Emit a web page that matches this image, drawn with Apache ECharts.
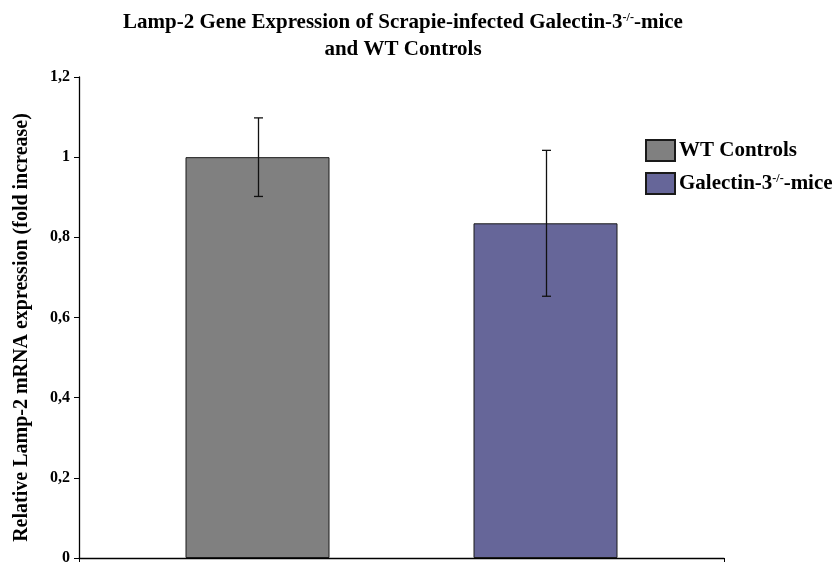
<!DOCTYPE html>
<html><head><meta charset="utf-8">
<script src="https://cdn.jsdelivr.net/npm/echarts@6/dist/echarts.min.js"></script>
<style>html,body{margin:0;padding:0;background:#fff}#c{width:836px;height:565px}</style>
</head><body><div id="c"></div>
<script>
var seriesNames = ['WT Controls', 'Galectin-3-/--mice'];
var legendLabels = ['WT Controls', 'Galectin-3{sup|-/-}-mice'];
var values = [1.0, 0.835];
var errors = [0.098, 0.182];
var yTicks = ['0', '0,2', '0,4', '0,6', '0,8', '1', '1,2'];
var colors = ['#808080', '#666699'];

var BAR_W = 144, BAR_GAP = 1.0;
var FONT = '"Liberation Serif","Times New Roman",serif';
var chart = echarts.init(document.getElementById('c'));

var series = seriesNames.map(function (n, i) {
  return {
    name: n, type: 'bar', barWidth: BAR_W, barGap: (BAR_GAP * 100) + '%',
    data: [values[i]],
    itemStyle: { color: colors[i], borderColor: '#1a1a1a', borderWidth: 1 },
    animation: false
  };
});
var errData = values.map(function (v, i) { return [0, v, errors[i], i]; });
series.push({
  type: 'custom', silent: true, animation: false, z: 5,
  data: errData,
  renderItem: function (params, api) {
    var v = api.value(1), e = api.value(2), i = api.value(3);
    var n = values.length;
    var off = (i - (n - 1) / 2) * BAR_W * (1 + BAR_GAP);
    var top = api.coord([0, v + e]);
    var bot = api.coord([0, v - e]);
    var x = Math.round(top[0] + off) + 0.5;
    var cap = 4.5;
    var st = { stroke: '#111', lineWidth: 1.3 };
    return { type: 'group', children: [
      { type: 'line', shape: { x1: x, y1: top[1], x2: x, y2: bot[1] }, style: st },
      { type: 'line', shape: { x1: x - cap, y1: top[1], x2: x + cap, y2: top[1] }, style: st },
      { type: 'line', shape: { x1: x - cap, y1: bot[1], x2: x + cap, y2: bot[1] }, style: st }
    ]};
  }
});

chart.setOption({
  animation: false,
  title: {
    text: 'Lamp-2 Gene Expression of Scrapie-infected Galectin-3{sup|-/-}-mice\nand WT Controls',
    left: 398, textAlign: 'center', top: 4,
    textStyle: { fontFamily: FONT, fontWeight: 'bold', fontSize: 21, color: '#000', lineHeight: 27,
      rich: { sup: { fontFamily: FONT, fontWeight: 'bold', fontSize: 12, color: '#000', padding: [0, 0, 9, 0] } } }
  },
  legend: {
    orient: 'vertical', left: 640, top: 134, itemWidth: 29, itemHeight: 21, itemGap: 10,
    icon: 'rect',
    data: seriesNames,
    formatter: function (n) { return legendLabels[seriesNames.indexOf(n)]; },
    textStyle: { fontFamily: FONT, fontWeight: 'bold', fontSize: 21, color: '#000', padding: [0, 0, 0, -1],
      rich: { sup: { fontFamily: FONT, fontWeight: 'bold', fontSize: 12, color: '#000', padding: [0, 0, 9, 0] } } }
  },
  grid: { left: 79, right: 112, top: 77, bottom: 7, containLabel: false, outerBoundsMode: 'none' },
  xAxis: {
    type: 'category', data: [''],
    axisLine: { lineStyle: { color: '#000', width: 1.3 } },
    axisTick: { show: true, length: 4, lineStyle: { color: '#000' } },
    axisLabel: { show: false }
  },
  yAxis: {
    type: 'value', min: 0, max: 1.2, interval: 0.2,
    name: 'Relative Lamp-2 mRNA expression (fold increase)',
    nameLocation: 'middle', nameGap: 47,
    nameTextStyle: { fontFamily: FONT, fontWeight: 'bold', fontSize: 20, color: '#000', padding: [0, 20, 0, 0] },
    axisLine: { show: true, lineStyle: { color: '#000', width: 1.3 } },
    axisTick: { show: true, length: 5, lineStyle: { color: '#000' } },
    splitLine: { show: false },
    axisLabel: {
      fontFamily: FONT, fontWeight: 'bold', fontSize: 16, color: '#000', margin: 9,
      formatter: function (v) { return yTicks[Math.round(v / 0.2)]; }
    }
  },
  series: series
});
</script></body></html>
